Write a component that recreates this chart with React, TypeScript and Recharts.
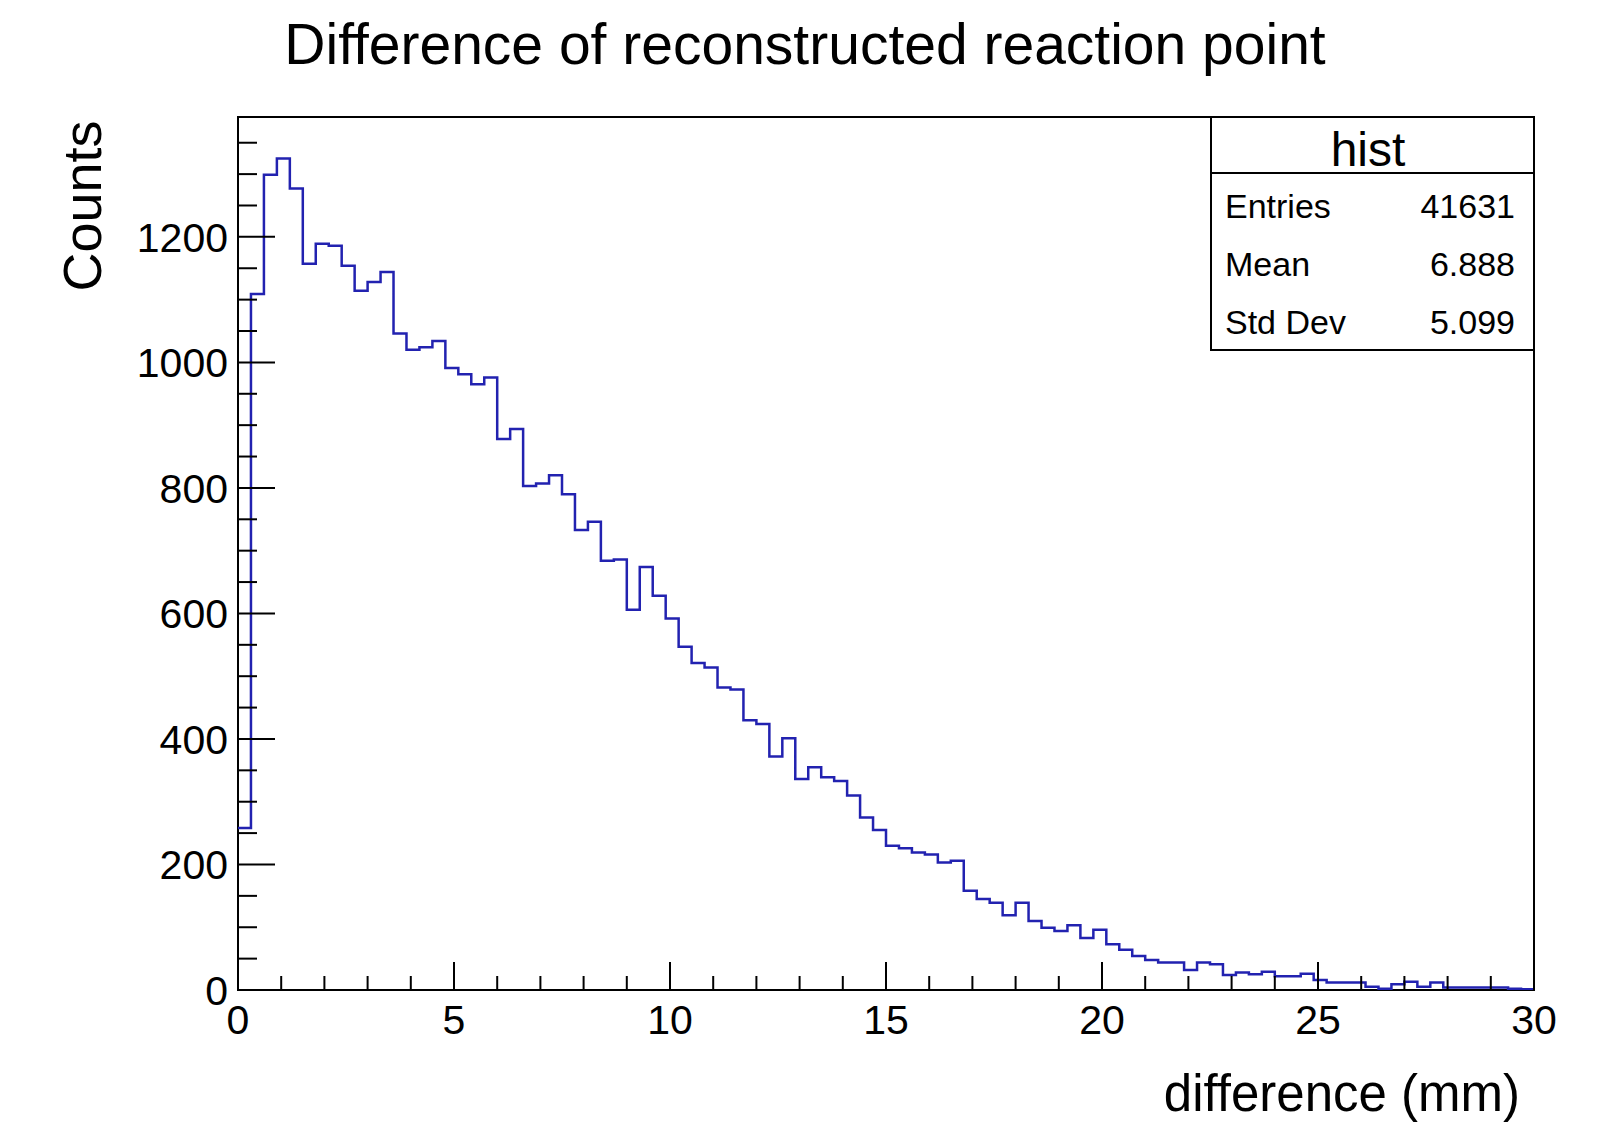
import { LineChart, Line, XAxis, YAxis, ReferenceArea } from "recharts";

// histogram: 100 bins from 0 to 30 mm
const binLow = 0;
const binWidth = 0.3;
const binCounts = [
    258, 1109, 1299, 1325, 1277, 1157, 1189, 1186, 1154, 1114,
    1128, 1144, 1046, 1020, 1024, 1034, 991, 981, 965, 976,
    878, 894, 803, 807, 820, 790, 733, 746, 684, 686,
    606, 674, 628, 592, 547, 521, 514, 482, 479, 430,
    424, 372, 401, 336, 355, 339, 333, 310, 275, 255,
    230, 226, 219, 216, 203, 206, 158, 145, 139, 119,
    139, 110, 99, 94, 103, 83, 96, 73, 64, 54,
    48, 44, 44, 32, 44, 41, 24, 28, 25, 29,
    22, 22, 26, 16, 12, 12, 12, 5, 2, 9,
    13, 5, 12, 4, 4, 4, 4, 4, 2, 1,
];

const xTicks = [
    0, 1, 2, 3, 4, 5, 6, 7, 8, 9, 10, 11, 12, 13, 14, 15,
    16, 17, 18, 19, 20, 21, 22, 23, 24, 25, 26, 27, 28, 29, 30,
];
const yTicks = [
    0, 50, 100, 150, 200, 250, 300, 350, 400, 450, 500, 550, 600, 650,
    700, 750, 800, 850, 900, 950, 1000, 1050, 1100, 1150, 1200, 1250, 1300, 1350,
];
const yMax = 1391;

const statsLabels = ["Entries", "Mean", "Std Dev"];
const statsValues = ["41631", "6.888", "5.099"];

// step line points: left edge of each bin, plus the right edge of the last one
const histData = binCounts.map((c, i) => ({ x: binLow + i * binWidth, y: c }));
histData.push({ x: binLow + binCounts.length * binWidth, y: binCounts[binCounts.length - 1] });

const FONT = "'Liberation Sans', Arial, Helvetica, sans-serif";

function XTick(props: any) {
    const { x, y, payload } = props;
    const major = payload.value % 5 === 0;
    return (
        <g>
            <line x1={x} x2={x} y1={y} y2={y - (major ? 28 : 14)} stroke="#000" strokeWidth={2} />
            {major && (
                <text x={x} y={y + 44} textAnchor="middle" fontSize={41} fontFamily={FONT} fill="#000">
                    {payload.value}
                </text>
            )}
        </g>
    );
}

function YTick(props: any) {
    const { x, y, payload } = props;
    const major = payload.value % 200 === 0;
    return (
        <g>
            <line x1={x} x2={x + (major ? 37 : 19)} y1={y} y2={y} stroke="#000" strokeWidth={2} />
            {major && (
                <text x={x - 10} y={y + 15} textAnchor="end" fontSize={41} fontFamily={FONT} fill="#000">
                    {payload.value}
                </text>
            )}
        </g>
    );
}

export default function App() {
    return (
        <div style={{ position: "absolute", left: 0, top: 0, width: 1608, height: 1126, background: "#fff" }}>
            <LineChart
                width={1608}
                height={1126}
                data={histData}
                margin={{ top: 117, right: 74, bottom: 96, left: 178 }}
            >
                <XAxis
                    dataKey="x"
                    type="number"
                    domain={[0, 30]}
                    ticks={xTicks}
                    interval={0}
                    height={40}
                    tickSize={0}
                    tickMargin={0}
                    axisLine={false}
                    tick={<XTick />}
                    allowDataOverflow
                />
                <YAxis
                    type="number"
                    domain={[0, yMax]}
                    ticks={yTicks}
                    interval={0}
                    width={60}
                    tickSize={0}
                    tickMargin={0}
                    axisLine={false}
                    tick={<YTick />}
                    allowDataOverflow
                />
                <ReferenceArea x1={0} x2={30} y1={0} y2={yMax} fill="none" stroke="#000" strokeWidth={2} ifOverflow="visible" />
                <Line
                    dataKey="y"
                    type="stepAfter"
                    stroke="#2222b0"
                    strokeWidth={2.5}
                    dot={false}
                    isAnimationActive={false}
                />
            </LineChart>

            <svg
                width={1608}
                height={1126}
                style={{ position: "absolute", left: 0, top: 0, pointerEvents: "none" }}
                fontFamily={FONT}
            >
                <text x={805} y={64} textAnchor="middle" fontSize={57} fill="#000">
                    Difference of reconstructed reaction point
                </text>
                <text x={0} y={0} transform="translate(101,206) rotate(-90)" textAnchor="middle" fontSize={54} fill="#000">
                    Counts
                </text>
                <text x={1520} y={1111} textAnchor="end" fontSize={51} fill="#000">
                    difference (mm)
                </text>

                {/* stats box */}
                <rect x={1211} y={117} width={323} height={233} fill="#fff" stroke="#000" strokeWidth={2} />
                <line x1={1211} x2={1534} y1={173} y2={173} stroke="#000" strokeWidth={2} />
                <text x={1368} y={166} textAnchor="middle" fontSize={48} fill="#000">
                    hist
                </text>
                {statsLabels.map((l, i) => (
                    <g key={l}>
                        <text x={1225} y={218 + i * 58} fontSize={34} fill="#000">
                            {l}
                        </text>
                        <text x={1515} y={218 + i * 58} textAnchor="end" fontSize={34} fill="#000">
                            {statsValues[i]}
                        </text>
                    </g>
                ))}
            </svg>
        </div>
    );
}
